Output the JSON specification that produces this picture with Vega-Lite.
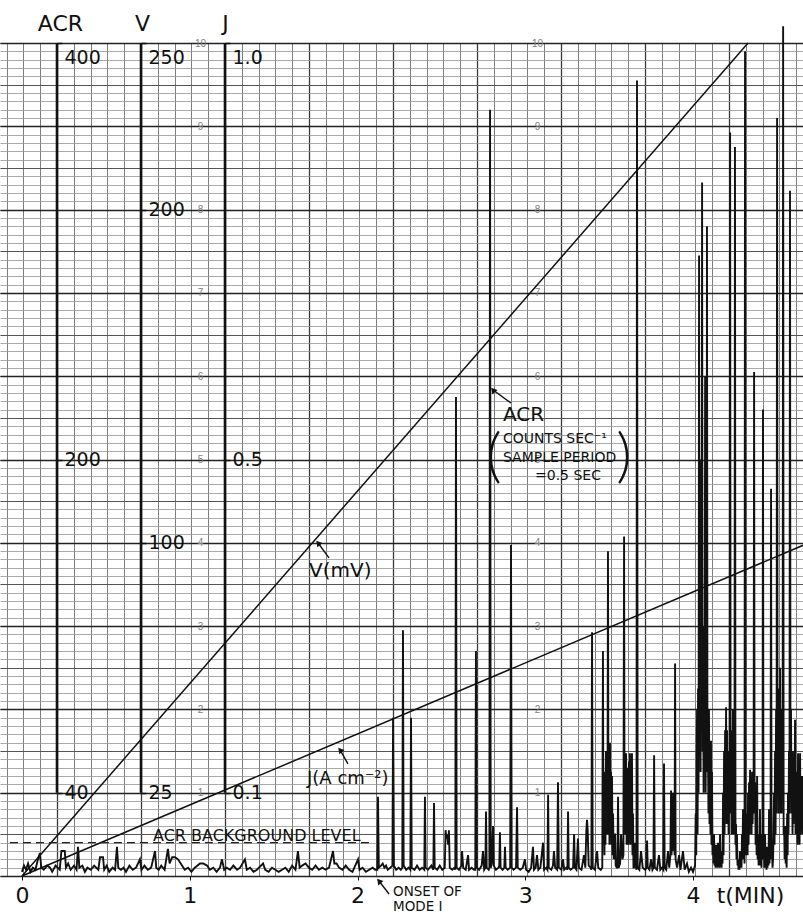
{
  "$schema": "https://vega.github.io/schema/vega-lite/v6.json",
  "width": 803,
  "height": 833,
  "autosize": {"type": "none"},
  "padding": {"top": 43, "bottom": 41, "left": 0, "right": 0},
  "background": "white",
  "config": {
    "view": {"stroke": null},
    "font": "DejaVu Sans",
    "axis": {"labelFont": "DejaVu Sans", "titleFont": "DejaVu Sans", "titleFontWeight": "normal", "labelColor": "#111", "titleColor": "#111"}
  },
  "resolve": {"scale": {"x": "independent", "y": "independent"}, "axis": {"x": "independent", "y": "independent"}},
  "layer": [
    {
      "data": {"values": [{"p": 0, "g": 0}]},
      "mark": {"type": "point", "opacity": 0},
      "encoding": {
        "x": {"field": "p", "type": "quantitative", "scale": {"domain": [-0.6786, 8.881], "nice": false, "zero": false},
              "axis": {"orient": "bottom", "grid": true, "tickCount": 48, "labels": false, "ticks": false, "domain": false, "title": null, "gridColor": "#6e6e6e", "gridWidth": 0.9}},
        "y": {"field": "g", "type": "quantitative", "scale": {"domain": [0, 10], "nice": false, "zero": false},
              "axis": {"orient": "left", "grid": true, "tickCount": 100, "labels": false, "ticks": false, "domain": false, "title": null, "gridColor": "#969696", "gridWidth": 0.8}}
      }
    },
    {
      "data": {"values": [{"p": 0, "g": 0}]},
      "mark": {"type": "point", "opacity": 0},
      "encoding": {
        "x": {"field": "p", "type": "quantitative", "scale": {"domain": [-0.6786, 8.881], "nice": false, "zero": false},
              "axis": {"orient": "bottom", "grid": true, "tickCount": 10, "labels": false, "ticks": false, "domain": false, "title": null, "gridColor": "#3a3a3a", "gridWidth": 1.3}},
        "y": {"field": "g", "type": "quantitative", "scale": {"domain": [0, 10], "nice": false, "zero": false},
              "axis": {"orient": "left", "grid": true, "tickCount": 20, "labels": false, "ticks": false, "domain": false, "title": null, "gridColor": "#555555", "gridWidth": 1.1}}
      }
    },
    {
      "data": {"values": [{"g": 0}]},
      "mark": {"type": "point", "opacity": 0},
      "encoding": {
        "y": {"field": "g", "type": "quantitative", "scale": {"domain": [0, 10], "nice": false, "zero": false},
              "axis": {"orient": "left", "offset": -200, "grid": true, "tickCount": 10, "gridColor": "#222", "gridWidth": 1.6, "ticks": false, "domain": false, "title": null,
                       "labelAlign": "center", "labelPadding": 0, "labelFontSize": 10, "labelColor": "#808080", "labelFont": "Liberation Sans",
                       "labelExpr": "datum.value == 0 ? '' : datum.label"}}
      }
    },
    {
      "data": {"values": [{"scale": "ACR", "p": 0}, {"scale": "V", "p": 1}, {"scale": "J", "p": 2}]},
      "mark": {"type": "rule", "strokeWidth": 2.6, "color": "#111"},
      "encoding": {
        "x": {"field": "p", "type": "quantitative", "scale": {"domain": [-0.6786, 8.881], "nice": false, "zero": false}, "axis": null},
        "y": {"datum": 1, "type": "quantitative", "scale": {"domain": [0, 10], "nice": false, "zero": false},
              "axis": {"orient": "left", "offset": -537, "values": [1, 2, 3, 4, 5, 6, 7, 8, 9, 10], "grid": false, "ticks": false, "domain": false, "title": null,
                       "labelAlign": "center", "labelPadding": 0, "labelFontSize": 10, "labelColor": "#808080", "labelFont": "Liberation Sans"}},
        "y2": {"datum": 10}
      }
    },
    {
      "data": {"values": [{"t": 0, "J": 0}, {"t": 4.656, "J": 0.397}]},
      "mark": {"type": "line", "color": "#111", "strokeWidth": 1.5},
      "encoding": {
        "x": {"field": "t", "type": "quantitative", "scale": {"domain": [-0.1311, 4.6555], "nice": false, "zero": false}, "axis": null},
        "y": {"field": "J", "type": "quantitative", "scale": {"domain": [0, 1], "nice": false, "zero": false},
              "axis": {"orient": "right", "offset": -578, "values": [0.1, 0.5, 1.0], "format": ".1f", "grid": false, "domain": false,
                       "ticks": true, "tickSize": 5, "tickColor": "#111", "tickWidth": 1.5, "labelFontSize": 19, "labelPadding": 2,
                       "labelOffset": {"condition": {"test": "datum.value == 1", "value": 14}, "value": 0},
                       "labelOverlap": false, "labelBound": false, "labelFlush": false,
                       "title": "J", "titleAngle": 0, "titleX": 0, "titleY": -20, "titleFontSize": 22, "titleAlign": "center", "titleBaseline": "middle"}}
      }
    },
    {
      "data": {"values": [{"t": 0, "V": 0}, {"t": 4.328, "V": 250}]},
      "mark": {"type": "line", "color": "#111", "strokeWidth": 1.5},
      "encoding": {
        "x": {"field": "t", "type": "quantitative", "scale": {"domain": [-0.1311, 4.6555], "nice": false, "zero": false}, "axis": null},
        "y": {"field": "V", "type": "quantitative", "scale": {"domain": [0, 250], "nice": false, "zero": false},
              "axis": {"orient": "right", "offset": -662, "values": [25, 100, 200, 250], "grid": false, "domain": false,
                       "ticks": true, "tickSize": 5, "tickColor": "#111", "tickWidth": 1.5, "labelFontSize": 19, "labelPadding": 2,
                       "labelOffset": {"condition": {"test": "datum.value == 250", "value": 14}, "value": 0},
                       "labelOverlap": false, "labelBound": false, "labelFlush": false,
                       "title": "V", "titleAngle": 0, "titleX": 1, "titleY": -20, "titleFontSize": 22, "titleAlign": "center", "titleBaseline": "middle"}}
      }
    },
    {
      "data": {"values": [
        {"t":0,"acr":2},{"t":0.012,"acr":5},{"t":0.024,"acr":3},{"t":0.036,"acr":6},{"t":0.05,"acr":2},{"t":0.065,"acr":4},{"t":0.08,"acr":3},{"t":0.095,"acr":8},{"t":0.107,"acr":11},{"t":0.115,"acr":4},
        {"t":0.13,"acr":3},{"t":0.15,"acr":5},{"t":0.167,"acr":4},{"t":0.18,"acr":2},{"t":0.2,"acr":5},{"t":0.225,"acr":3},{"t":0.235,"acr":12},{"t":0.255,"acr":12},{"t":0.262,"acr":4},{"t":0.275,"acr":6},
        {"t":0.29,"acr":3},{"t":0.31,"acr":5},{"t":0.325,"acr":3},{"t":0.334,"acr":14},{"t":0.342,"acr":4},{"t":0.36,"acr":5},{"t":0.375,"acr":2},{"t":0.39,"acr":4},{"t":0.41,"acr":3},{"t":0.43,"acr":5},
        {"t":0.455,"acr":3},{"t":0.465,"acr":9},{"t":0.483,"acr":9},{"t":0.49,"acr":3},{"t":0.505,"acr":5},{"t":0.52,"acr":2},{"t":0.54,"acr":4},{"t":0.555,"acr":3},{"t":0.566,"acr":14},{"t":0.574,"acr":4},
        {"t":0.59,"acr":3},{"t":0.605,"acr":4},{"t":0.62,"acr":2},{"t":0.64,"acr":5},{"t":0.66,"acr":3},{"t":0.68,"acr":4},{"t":0.703,"acr":8},{"t":0.712,"acr":3},{"t":0.73,"acr":5},{"t":0.75,"acr":3},
        {"t":0.77,"acr":4},{"t":0.793,"acr":12},{"t":0.8,"acr":4},{"t":0.815,"acr":3},{"t":0.83,"acr":5},{"t":0.85,"acr":3},{"t":0.87,"acr":13},{"t":0.88,"acr":6},{"t":0.895,"acr":9},{"t":0.912,"acr":9},
        {"t":0.93,"acr":8},{"t":0.954,"acr":5},{"t":0.97,"acr":3},{"t":0.99,"acr":4},{"t":1.01,"acr":2},{"t":1.03,"acr":4},{"t":1.061,"acr":6},{"t":1.08,"acr":6},{"t":1.103,"acr":5},{"t":1.12,"acr":3},
        {"t":1.14,"acr":4},{"t":1.16,"acr":2},{"t":1.18,"acr":4},{"t":1.192,"acr":8},{"t":1.205,"acr":3},{"t":1.22,"acr":4},{"t":1.24,"acr":3},{"t":1.26,"acr":5},{"t":1.282,"acr":3},{"t":1.3,"acr":4},
        {"t":1.329,"acr":8},{"t":1.34,"acr":3},{"t":1.36,"acr":4},{"t":1.38,"acr":2},{"t":1.4,"acr":3},{"t":1.437,"acr":6},{"t":1.45,"acr":3},{"t":1.47,"acr":2},{"t":1.49,"acr":4},{"t":1.51,"acr":3},
        {"t":1.53,"acr":2},{"t":1.55,"acr":3},{"t":1.57,"acr":4},{"t":1.59,"acr":2},{"t":1.61,"acr":5},{"t":1.63,"acr":3},{"t":1.645,"acr":12},{"t":1.655,"acr":4},{"t":1.67,"acr":5},{"t":1.69,"acr":6},
        {"t":1.71,"acr":4},{"t":1.73,"acr":3},{"t":1.75,"acr":5},{"t":1.77,"acr":3},{"t":1.79,"acr":4},{"t":1.81,"acr":3},{"t":1.83,"acr":4},{"t":1.854,"acr":12},{"t":1.862,"acr":6},{"t":1.875,"acr":6},
        {"t":1.89,"acr":4},{"t":1.91,"acr":3},{"t":1.93,"acr":5},{"t":1.95,"acr":3},{"t":1.97,"acr":2},{"t":2.003,"acr":8},{"t":2.012,"acr":3},{"t":2.03,"acr":4},{"t":2.05,"acr":2},{"t":2.07,"acr":3},
        {"t":2.09,"acr":4},{"t":2.105,"acr":3},{"t":2.118,"acr":3},{"t":2.122,"acr":38},{"t":2.127,"acr":4},{"t":2.14,"acr":5},{"t":2.15,"acr":6},{"t":2.16,"acr":4},{"t":2.17,"acr":5},{"t":2.18,"acr":3},
        {"t":2.195,"acr":4},{"t":2.208,"acr":5},{"t":2.212,"acr":76},{"t":2.217,"acr":5},{"t":2.23,"acr":3},{"t":2.245,"acr":4},{"t":2.258,"acr":3},{"t":2.267,"acr":4},{"t":2.271,"acr":118},{"t":2.275,"acr":5},
        {"t":2.29,"acr":3},{"t":2.305,"acr":4},{"t":2.315,"acr":3},{"t":2.319,"acr":76},{"t":2.323,"acr":4},{"t":2.34,"acr":3},{"t":2.355,"acr":5},{"t":2.37,"acr":3},{"t":2.385,"acr":4},{"t":2.398,"acr":3},
        {"t":2.402,"acr":38},{"t":2.406,"acr":4},{"t":2.42,"acr":3},{"t":2.44,"acr":5},{"t":2.452,"acr":3},{"t":2.456,"acr":35},{"t":2.46,"acr":4},{"t":2.475,"acr":3},{"t":2.49,"acr":5},{"t":2.505,"acr":3},
        {"t":2.52,"acr":4},{"t":2.525,"acr":22},{"t":2.53,"acr":18},{"t":2.535,"acr":20},{"t":2.54,"acr":15},{"t":2.545,"acr":22},{"t":2.55,"acr":4},{"t":2.565,"acr":3},{"t":2.578,"acr":4},{"t":2.583,"acr":3},
        {"t":2.587,"acr":230},{"t":2.591,"acr":4},{"t":2.605,"acr":3},{"t":2.62,"acr":5},{"t":2.623,"acr":12},{"t":2.63,"acr":4},{"t":2.645,"acr":3},{"t":2.659,"acr":10},{"t":2.665,"acr":3},{"t":2.68,"acr":4},
        {"t":2.695,"acr":3},{"t":2.702,"acr":3},{"t":2.706,"acr":108},{"t":2.71,"acr":4},{"t":2.725,"acr":3},{"t":2.74,"acr":5},{"t":2.748,"acr":12},{"t":2.755,"acr":3},{"t":2.762,"acr":4},{"t":2.766,"acr":31},
        {"t":2.77,"acr":4},{"t":2.782,"acr":3},{"t":2.786,"acr":4},{"t":2.79,"acr":368},{"t":2.794,"acr":4},{"t":2.8,"acr":6},{"t":2.808,"acr":24},{"t":2.812,"acr":5},{"t":2.825,"acr":3},{"t":2.84,"acr":4},
        {"t":2.845,"acr":5},{"t":2.849,"acr":21},{"t":2.853,"acr":4},{"t":2.865,"acr":3},{"t":2.875,"acr":4},{"t":2.879,"acr":14},{"t":2.883,"acr":4},{"t":2.895,"acr":3},{"t":2.91,"acr":4},{"t":2.915,"acr":159},
        {"t":2.919,"acr":4},{"t":2.93,"acr":3},{"t":2.945,"acr":4},{"t":2.951,"acr":33},{"t":2.955,"acr":4},{"t":2.97,"acr":3},{"t":2.985,"acr":4},{"t":2.998,"acr":8},{"t":3.005,"acr":3},{"t":3.02,"acr":2},
        {"t":3.035,"acr":4},{"t":3.046,"acr":14},{"t":3.052,"acr":3},{"t":3.062,"acr":4},{"t":3.07,"acr":10},{"t":3.078,"acr":3},{"t":3.09,"acr":4},{"t":3.106,"acr":16},{"t":3.112,"acr":3},{"t":3.125,"acr":4},
        {"t":3.132,"acr":3},{"t":3.136,"acr":39},{"t":3.14,"acr":4},{"t":3.155,"acr":3},{"t":3.165,"acr":5},{"t":3.171,"acr":12},{"t":3.178,"acr":4},{"t":3.19,"acr":3},{"t":3.195,"acr":45},{"t":3.2,"acr":4},
        {"t":3.215,"acr":3},{"t":3.225,"acr":8},{"t":3.232,"acr":3},{"t":3.245,"acr":4},{"t":3.251,"acr":3},{"t":3.255,"acr":31},{"t":3.259,"acr":4},{"t":3.27,"acr":3},{"t":3.285,"acr":4},{"t":3.291,"acr":20},
        {"t":3.296,"acr":4},{"t":3.305,"acr":3},{"t":3.314,"acr":18},{"t":3.32,"acr":4},{"t":3.335,"acr":3},{"t":3.35,"acr":10},{"t":3.358,"acr":4},{"t":3.364,"acr":22},{"t":3.368,"acr":27},{"t":3.372,"acr":22},
        {"t":3.378,"acr":5},{"t":3.39,"acr":4},{"t":3.394,"acr":3},{"t":3.398,"acr":117},{"t":3.402,"acr":4},{"t":3.415,"acr":3},{"t":3.428,"acr":12},{"t":3.435,"acr":4},{"t":3.45,"acr":3},{"t":3.459,"acr":4},
        {"t":3.463,"acr":108},{"t":3.466,"acr":15},{"t":3.469,"acr":40},{"t":3.472,"acr":10},{"t":3.475,"acr":50},{"t":3.478,"acr":15},{"t":3.481,"acr":60},{"t":3.484,"acr":20},{"t":3.487,"acr":50},{"t":3.49,"acr":20},
        {"t":3.493,"acr":156},{"t":3.496,"acr":20},{"t":3.499,"acr":55},{"t":3.502,"acr":15},{"t":3.505,"acr":64},{"t":3.508,"acr":20},{"t":3.511,"acr":50},{"t":3.514,"acr":15},{"t":3.517,"acr":48},{"t":3.52,"acr":10},
        {"t":3.523,"acr":30},{"t":3.527,"acr":8},{"t":3.531,"acr":20},{"t":3.535,"acr":20},{"t":3.539,"acr":5},{"t":3.545,"acr":4},{"t":3.549,"acr":4},{"t":3.553,"acr":38},{"t":3.557,"acr":4},{"t":3.565,"acr":6},
        {"t":3.571,"acr":20},{"t":3.579,"acr":8},{"t":3.585,"acr":10},{"t":3.589,"acr":163},{"t":3.592,"acr":20},{"t":3.595,"acr":55},{"t":3.598,"acr":20},{"t":3.601,"acr":59},{"t":3.604,"acr":15},{"t":3.607,"acr":50},
        {"t":3.61,"acr":20},{"t":3.612,"acr":52},{"t":3.615,"acr":15},{"t":3.618,"acr":55},{"t":3.621,"acr":20},{"t":3.624,"acr":59},{"t":3.627,"acr":15},{"t":3.63,"acr":50},{"t":3.633,"acr":20},{"t":3.636,"acr":59},
        {"t":3.639,"acr":10},{"t":3.642,"acr":30},{"t":3.645,"acr":4},{"t":3.648,"acr":4},{"t":3.654,"acr":16},{"t":3.66,"acr":4},{"t":3.663,"acr":3},{"t":3.666,"acr":382},{"t":3.67,"acr":4},{"t":3.68,"acr":3},
        {"t":3.69,"acr":12},{"t":3.7,"acr":4},{"t":3.715,"acr":3},{"t":3.722,"acr":4},{"t":3.726,"acr":17},{"t":3.73,"acr":4},{"t":3.74,"acr":3},{"t":3.75,"acr":8},{"t":3.758,"acr":3},{"t":3.764,"acr":4},
        {"t":3.768,"acr":58},{"t":3.772,"acr":4},{"t":3.785,"acr":3},{"t":3.797,"acr":10},{"t":3.805,"acr":3},{"t":3.815,"acr":4},{"t":3.823,"acr":3},{"t":3.827,"acr":54},{"t":3.831,"acr":4},{"t":3.84,"acr":3},
        {"t":3.851,"acr":12},{"t":3.858,"acr":4},{"t":3.865,"acr":10},{"t":3.869,"acr":41},{"t":3.872,"acr":10},{"t":3.875,"acr":35},{"t":3.878,"acr":12},{"t":3.881,"acr":40},{"t":3.884,"acr":15},{"t":3.887,"acr":30},
        {"t":3.89,"acr":10},{"t":3.893,"acr":102},{"t":3.896,"acr":8},{"t":3.905,"acr":4},{"t":3.917,"acr":10},{"t":3.925,"acr":3},{"t":3.94,"acr":12},{"t":3.95,"acr":3},{"t":3.964,"acr":6},{"t":3.975,"acr":2},
        {"t":3.988,"acr":4},{"t":4.0,"acr":2},
        {"t":4.012,"acr":5},{"t":4.016,"acr":30},{"t":4.019,"acr":10},{"t":4.022,"acr":60},{"t":4.024,"acr":80},{"t":4.027,"acr":20},{"t":4.03,"acr":90},{"t":4.033,"acr":40},{"t":4.036,"acr":298},{"t":4.039,"acr":60},
        {"t":4.042,"acr":120},{"t":4.045,"acr":50},{"t":4.048,"acr":200},{"t":4.051,"acr":70},{"t":4.054,"acr":333},{"t":4.057,"acr":60},{"t":4.06,"acr":100},{"t":4.063,"acr":40},{"t":4.066,"acr":120},{"t":4.069,"acr":50},
        {"t":4.072,"acr":240},{"t":4.075,"acr":40},{"t":4.078,"acr":80},{"t":4.081,"acr":60},{"t":4.083,"acr":312},{"t":4.086,"acr":50},{"t":4.089,"acr":60},{"t":4.092,"acr":30},{"t":4.095,"acr":80},{"t":4.098,"acr":25},
        {"t":4.101,"acr":40},{"t":4.104,"acr":20},{"t":4.107,"acr":65},{"t":4.11,"acr":15},{"t":4.113,"acr":50},{"t":4.116,"acr":10},{"t":4.119,"acr":20},{"t":4.122,"acr":6},{"t":4.125,"acr":20},{"t":4.128,"acr":5},
        {"t":4.131,"acr":15},{"t":4.134,"acr":4},{"t":4.137,"acr":15},{"t":4.14,"acr":6},{"t":4.143,"acr":12},{"t":4.146,"acr":4},{"t":4.149,"acr":16},{"t":4.152,"acr":5},{"t":4.155,"acr":14},{"t":4.158,"acr":4},
        {"t":4.161,"acr":20},{"t":4.164,"acr":6},{"t":4.167,"acr":10},{"t":4.17,"acr":4},{"t":4.173,"acr":12},{"t":4.176,"acr":6},{"t":4.179,"acr":40},{"t":4.182,"acr":10},{"t":4.185,"acr":60},{"t":4.188,"acr":20},
        {"t":4.191,"acr":70},{"t":4.194,"acr":30},{"t":4.197,"acr":81},{"t":4.2,"acr":25},{"t":4.203,"acr":70},{"t":4.206,"acr":30},{"t":4.209,"acr":60},{"t":4.212,"acr":20},{"t":4.215,"acr":50},{"t":4.218,"acr":30},
        {"t":4.221,"acr":357},{"t":4.224,"acr":40},{"t":4.227,"acr":70},{"t":4.23,"acr":20},{"t":4.233,"acr":60},{"t":4.236,"acr":30},{"t":4.238,"acr":80},{"t":4.241,"acr":20},{"t":4.244,"acr":50},{"t":4.247,"acr":20},
        {"t":4.25,"acr":350},{"t":4.253,"acr":15},{"t":4.256,"acr":25},{"t":4.259,"acr":8},{"t":4.262,"acr":20},{"t":4.265,"acr":5},{"t":4.268,"acr":8},{"t":4.271,"acr":3},{"t":4.274,"acr":6},{"t":4.277,"acr":3},
        {"t":4.28,"acr":12},{"t":4.283,"acr":4},{"t":4.286,"acr":8},{"t":4.289,"acr":4},{"t":4.292,"acr":20},{"t":4.295,"acr":8},{"t":4.298,"acr":32},{"t":4.301,"acr":10},{"t":4.304,"acr":20},{"t":4.307,"acr":6},
        {"t":4.31,"acr":396},{"t":4.313,"acr":10},{"t":4.316,"acr":30},{"t":4.319,"acr":10},{"t":4.322,"acr":25},{"t":4.325,"acr":10},{"t":4.328,"acr":40},{"t":4.331,"acr":15},{"t":4.334,"acr":45},{"t":4.337,"acr":20},
        {"t":4.34,"acr":51},{"t":4.343,"acr":25},{"t":4.346,"acr":45},{"t":4.349,"acr":20},{"t":4.352,"acr":50},{"t":4.355,"acr":25},{"t":4.358,"acr":40},{"t":4.361,"acr":30},{"t":4.364,"acr":242},{"t":4.367,"acr":30},
        {"t":4.37,"acr":45},{"t":4.373,"acr":15},{"t":4.376,"acr":30},{"t":4.379,"acr":10},{"t":4.382,"acr":48},{"t":4.385,"acr":8},{"t":4.388,"acr":15},{"t":4.391,"acr":5},{"t":4.394,"acr":20},{"t":4.397,"acr":6},
        {"t":4.399,"acr":32},{"t":4.402,"acr":5},{"t":4.405,"acr":10},{"t":4.408,"acr":4},{"t":4.411,"acr":20},{"t":4.414,"acr":8},{"t":4.417,"acr":224},{"t":4.42,"acr":8},{"t":4.423,"acr":12},{"t":4.426,"acr":4},
        {"t":4.429,"acr":20},{"t":4.432,"acr":5},{"t":4.435,"acr":6},{"t":4.438,"acr":3},{"t":4.441,"acr":14},{"t":4.444,"acr":4},{"t":4.447,"acr":10},{"t":4.45,"acr":5},{"t":4.453,"acr":32},{"t":4.456,"acr":6},
        {"t":4.459,"acr":15},{"t":4.462,"acr":10},{"t":4.465,"acr":186},{"t":4.468,"acr":8},{"t":4.471,"acr":10},{"t":4.474,"acr":4},{"t":4.477,"acr":8},{"t":4.48,"acr":20},{"t":4.483,"acr":40},{"t":4.486,"acr":15},
        {"t":4.489,"acr":60},{"t":4.492,"acr":20},{"t":4.495,"acr":80},{"t":4.498,"acr":30},{"t":4.501,"acr":364},{"t":4.504,"acr":40},{"t":4.507,"acr":80},{"t":4.51,"acr":30},{"t":4.513,"acr":90},{"t":4.516,"acr":40},
        {"t":4.519,"acr":100},{"t":4.522,"acr":30},{"t":4.525,"acr":70},{"t":4.528,"acr":30},{"t":4.531,"acr":80},{"t":4.534,"acr":40},{"t":4.537,"acr":408},{"t":4.54,"acr":20},{"t":4.543,"acr":24},{"t":4.546,"acr":8},
        {"t":4.549,"acr":24},{"t":4.552,"acr":6},{"t":4.555,"acr":10},{"t":4.558,"acr":4},{"t":4.561,"acr":30},{"t":4.564,"acr":10},{"t":4.566,"acr":40},{"t":4.569,"acr":20},{"t":4.572,"acr":60},{"t":4.575,"acr":30},
        {"t":4.578,"acr":329},{"t":4.581,"acr":40},{"t":4.584,"acr":80},{"t":4.587,"acr":30},{"t":4.59,"acr":60},{"t":4.593,"acr":20},{"t":4.596,"acr":40},{"t":4.599,"acr":25},{"t":4.602,"acr":60},{"t":4.605,"acr":30},
        {"t":4.608,"acr":75},{"t":4.611,"acr":20},{"t":4.614,"acr":50},{"t":4.617,"acr":25},{"t":4.62,"acr":32},{"t":4.623,"acr":15},{"t":4.626,"acr":59},{"t":4.629,"acr":20},{"t":4.632,"acr":40},{"t":4.635,"acr":15},
        {"t":4.638,"acr":59},{"t":4.641,"acr":20},{"t":4.644,"acr":45},{"t":4.647,"acr":25},{"t":4.65,"acr":48},{"t":4.653,"acr":20},{"t":4.656,"acr":40}
      ]},
      "mark": {"type": "line", "color": "#111", "strokeWidth": 1.9},
      "encoding": {
        "x": {"field": "t", "type": "quantitative", "scale": {"domain": [-0.1311, 4.6555], "nice": false, "zero": false},
              "axis": {"orient": "bottom", "values": [0, 1, 2, 3, 4], "grid": false, "domain": false, "ticks": true, "tickSize": 4, "tickColor": "#111",
                       "labelFontSize": 22, "labelBaseline": "middle", "labelPadding": 15, "labelFlush": false, "labelOverlap": false, "labelBound": false,
                       "title": "t(MIN)", "titleX": 750, "titleY": 19, "titleAngle": 0, "titleAlign": "center", "titleBaseline": "middle", "titleFontSize": 22}},
        "y": {"field": "acr", "type": "quantitative", "scale": {"domain": [0, 400], "nice": false, "zero": false},
              "axis": {"orient": "right", "offset": -746, "values": [40, 200, 400], "grid": false, "domain": false,
                       "ticks": true, "tickSize": 5, "tickColor": "#111", "tickWidth": 1.5, "labelFontSize": 19, "labelPadding": 2,
                       "labelOffset": {"condition": {"test": "datum.value == 400", "value": 14}, "value": 0},
                       "labelOverlap": false, "labelBound": false, "labelFlush": false,
                       "title": "ACR", "titleAngle": 0, "titleX": 3, "titleY": -20, "titleFontSize": 22, "titleAlign": "center", "titleBaseline": "middle"}}
      }
    },
    {
      "data": {"values": [{"level": 16, "from": -0.072, "to": 2.092}]},
      "mark": {"type": "rule", "strokeDash": [8, 5], "strokeWidth": 1.3, "color": "#222"},
      "encoding": {
        "x": {"field": "from", "type": "quantitative", "scale": {"domain": [-0.1311, 4.6555], "nice": false, "zero": false}, "axis": null},
        "x2": {"field": "to"},
        "y": {"field": "level", "type": "quantitative", "scale": {"domain": [0, 400], "nice": false, "zero": false}, "axis": null}
      }
    },
    {
      "data": {"values": [
        {"label": "V", "t": 1.830, "v": 3.818, "t2": 1.765, "v2": 3.998},
        {"label": "J", "t": 1.943, "v": 1.345, "t2": 1.896, "v2": 1.513},
        {"label": "ACR", "t": 2.915, "v": 5.678, "t2": 2.808, "v2": 5.834},
        {"label": "onset", "t": 2.188, "v": -0.216, "t2": 2.128, "v2": -0.060}
      ]},
      "layer": [
        {
          "mark": {"type": "rule", "strokeWidth": 1.4, "color": "#111"},
          "encoding": {
            "x": {"field": "t", "type": "quantitative", "scale": {"domain": [-0.1311, 4.6555], "nice": false, "zero": false}, "axis": null},
            "x2": {"field": "t2"},
            "y": {"field": "v", "type": "quantitative", "scale": {"domain": [0, 10], "nice": false, "zero": false}, "axis": null},
            "y2": {"field": "v2"}
          }
        },
        {
          "mark": {"type": "point", "shape": "triangle-up", "filled": true, "size": 45, "angle": -40, "color": "#111", "opacity": 1},
          "encoding": {
            "x": {"field": "t2", "type": "quantitative", "scale": {"domain": [-0.1311, 4.6555], "nice": false, "zero": false}, "axis": null},
            "y": {"field": "v2", "type": "quantitative", "scale": {"domain": [0, 10], "nice": false, "zero": false}, "axis": null}
          }
        }
      ],
      "resolve": {"scale": {"x": "shared", "y": "shared"}}
    },
    {
      "data": {"values": [{"text": "ACR", "t": 2.867, "v": 5.534}, {"text": "V(mV)", "t": 1.711, "v": 3.661}]},
      "mark": {"type": "text", "fontSize": 20, "align": "left", "baseline": "middle", "color": "#111"},
      "encoding": {
        "x": {"field": "t", "type": "quantitative", "scale": {"domain": [-0.1311, 4.6555], "nice": false, "zero": false}, "axis": null},
        "y": {"field": "v", "type": "quantitative", "scale": {"domain": [0, 10], "nice": false, "zero": false}, "axis": null},
        "text": {"field": "text"}
      }
    },
    {
      "data": {"values": [{"text": "J(A cm⁻²)", "t": 1.699, "v": 1.164}]},
      "mark": {"type": "text", "fontSize": 18, "align": "left", "baseline": "middle", "color": "#111"},
      "encoding": {
        "x": {"field": "t", "type": "quantitative", "scale": {"domain": [-0.1311, 4.6555], "nice": false, "zero": false}, "axis": null},
        "y": {"field": "v", "type": "quantitative", "scale": {"domain": [0, 10], "nice": false, "zero": false}, "axis": null},
        "text": {"field": "text"}
      }
    },
    {
      "data": {"values": [
        {"text": "COUNTS SEC⁻¹", "t": 2.867, "v": 5.246},
        {"text": "SAMPLE PERIOD", "t": 2.867, "v": 5.018},
        {"text": "=0.5 SEC", "t": 3.058, "v": 4.802}
      ]},
      "mark": {"type": "text", "fontSize": 14, "align": "left", "baseline": "middle", "color": "#111"},
      "encoding": {
        "x": {"field": "t", "type": "quantitative", "scale": {"domain": [-0.1311, 4.6555], "nice": false, "zero": false}, "axis": null},
        "y": {"field": "v", "type": "quantitative", "scale": {"domain": [0, 10], "nice": false, "zero": false}, "axis": null},
        "text": {"field": "text"}
      }
    },
    {
      "data": {"values": [{"text": "ACR BACKGROUND LEVEL", "t": 0.781, "v": 0.48}]},
      "mark": {"type": "text", "fontSize": 16, "align": "left", "baseline": "middle", "color": "#111"},
      "encoding": {
        "x": {"field": "t", "type": "quantitative", "scale": {"domain": [-0.1311, 4.6555], "nice": false, "zero": false}, "axis": null},
        "y": {"field": "v", "type": "quantitative", "scale": {"domain": [0, 10], "nice": false, "zero": false}, "axis": null},
        "text": {"field": "text"}
      }
    },
    {
      "data": {"values": [{"text": "ONSET OF", "t": 2.212, "v": -0.192}, {"text": "MODE I", "t": 2.212, "v": -0.375}]},
      "mark": {"type": "text", "fontSize": 13.5, "align": "left", "baseline": "middle", "color": "#111"},
      "encoding": {
        "x": {"field": "t", "type": "quantitative", "scale": {"domain": [-0.1311, 4.6555], "nice": false, "zero": false}, "axis": null},
        "y": {"field": "v", "type": "quantitative", "scale": {"domain": [0, 10], "nice": false, "zero": false}, "axis": null},
        "text": {"field": "text"}
      }
    },
    {
      "data": {"values": [{"text": "(", "t": 2.814, "v": 5.024}, {"text": ")", "t": 3.588, "v": 5.024}]},
      "mark": {"type": "text", "fontSize": 60, "font": "Lato", "fontWeight": 300, "align": "center", "baseline": "middle", "color": "#111"},
      "encoding": {
        "x": {"field": "t", "type": "quantitative", "scale": {"domain": [-0.1311, 4.6555], "nice": false, "zero": false}, "axis": null},
        "y": {"field": "v", "type": "quantitative", "scale": {"domain": [0, 10], "nice": false, "zero": false}, "axis": null},
        "text": {"field": "text"}
      }
    }
  ]
}
